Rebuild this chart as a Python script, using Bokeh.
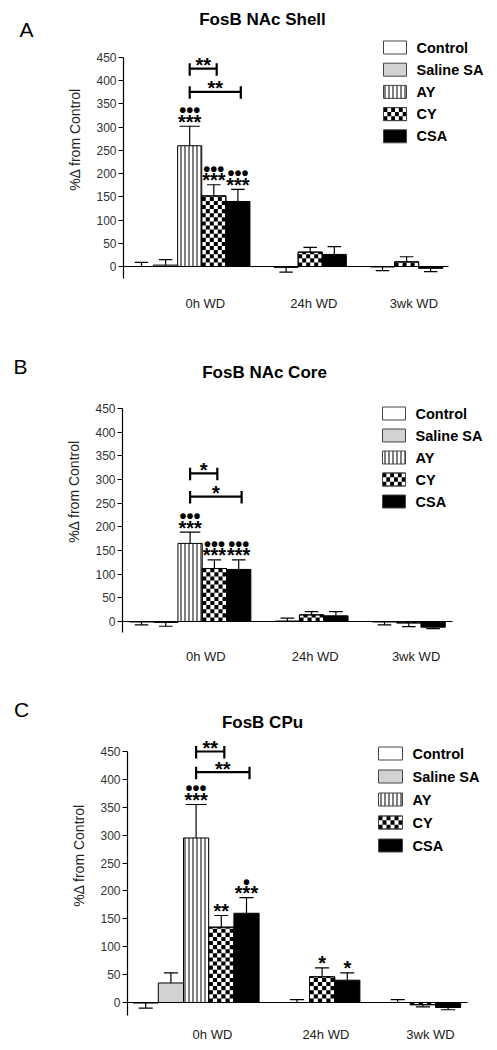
import math
from bokeh.plotting import figure
from bokeh.layouts import column, row
from bokeh.models import Range1d, FixedTicker
from bokeh.core.properties import value
from bokeh.embed import file_html
from bokeh.resources import INLINE

FONT = "Liberation Sans"
PAGE_W = 496
LETTER_W = 50

# ---------------- data ----------------
groups = ["0h WD", "24h WD", "3wk WD"]
series_0h = ["Control", "Saline SA", "AY", "CY", "CSA"]
series_24h = ["Control", "CY", "CSA"]
series_3wk = ["Control", "CY", "CSA"]
legend_names = ["Control", "Saline SA", "AY", "CY", "CSA"]
y_ticks = [0, 50, 100, 150, 200, 250, 300, 350, 400, 450]

# A: FosB NAc Shell (% change from control: mean, SEM)
shell_0h = [0, 3, 260, 152, 140]
shell_0h_sem = [9, 12, 42, 24, 26]
shell_24h = [-2, 31, 26]
shell_24h_sem = [10, 10, 17]
shell_3wk = [-1, 10, -4]
shell_3wk_sem = [8, 11, 7]
shell_0h_stars = ["", "", "***", "***", "***"]
shell_0h_dots = ["", "", "•••", "•••", "•••"]
shell_24h_stars = ["", "", ""]
shell_bracket_to = ["CY", "CSA"]
shell_bracket_y = [426, 376]
shell_bracket_txt = ["**", "**"]

# B: FosB NAc Core
core_0h = [-1, -2, 165, 112, 110]
core_0h_sem = [6, 8, 24, 18, 20]
core_24h = [1, 14, 12]
core_24h_sem = [6, 7, 9]
core_3wk = [-1, -3, -12]
core_3wk_sem = [6, 8, 3]
core_0h_stars = ["", "", "***", "***", "***"]
core_0h_dots = ["", "", "•••", "•••", "•••"]
core_24h_stars = ["", "", ""]
core_bracket_to = ["CY", "CSA"]
core_bracket_y = [313, 264]
core_bracket_txt = ["*", "*"]

# C: FosB CPu
cpu_0h = [-1, 35, 295, 135, 160]
cpu_0h_sem = [9, 18, 60, 21, 28]
cpu_24h = [0, 46, 40]
cpu_24h_sem = [5, 16, 13]
cpu_3wk = [0, -4, -9]
cpu_3wk_sem = [5, 4, 4]
cpu_0h_stars = ["", "", "***", "**", "***"]
cpu_0h_dots = ["", "", "•••", "", "•"]
cpu_24h_stars = ["", "*", "*"]
cpu_bracket_to = ["CY", "CSA"]
cpu_bracket_y = [450, 413]
cpu_bracket_txt = ["**", "**"]

# ---------------- layout (pixel geometry of each panel, page coords) ----------------
LAYOUT = {
    "A": dict(fig_top=0, fig_h=350, frame_left=123, frame_bottom=278,
              zero_y=266, y450=57, slot0=141.0, slot_px=24.1, line_end=448, cat_standoff=17,
              box_l=383, box_r=406, text_l=416, leg_y0=47, leg_dy=22.2,
              title_x=262, title_y=19, letter_x=26, letter_y=36),
    "B": dict(fig_top=350, fig_h=345, frame_left=122, frame_bottom=632,
              zero_y=621, y450=408, slot0=141.0, slot_px=24.3, line_end=452, cat_standoff=16,
              box_l=382, box_r=405, text_l=415, leg_y0=413, leg_dy=22.0,
              title_x=264, title_y=372, letter_x=20, letter_y=369),
    "C": dict(fig_top=695, fig_h=353, frame_left=127, frame_bottom=1015,
              zero_y=1002, y450=751, slot0=145.2, slot_px=25.2, line_end=467, cat_standoff=11,
              box_l=378, box_r=402, text_l=412, leg_y0=753, leg_dy=23.0,
              title_x=262, title_y=722, letter_x=21, letter_y=710),
}
label_shift = [0.65, 0.15, 0.3]

STYLE = {
    "Control": dict(fill_color="white"),
    "Saline SA": dict(fill_color="#d2d2d2"),
    "AY": dict(fill_color="white", hatch_pattern="vertical_line", hatch_scale=4,
               hatch_weight=1, hatch_color="black"),
    "CY": dict(fill_color="white"),
    "CSA": dict(fill_color="black"),
}
CAP = {"Control": 0.28, "Saline SA": 0.28, "AY": 0.42, "CY": 0.28, "CSA": 0.28}


def checker(p, l, r, y_from, y_to, ncols, cell_h):
    span = abs(y_to - y_from)
    if span <= 0:
        return
    sgn = 1 if y_to > y_from else -1
    nrows = int(math.ceil(span / cell_h - 1e-9))
    w = (r - l) / ncols
    L_, R_, B_, T_ = [], [], [], []
    for j in range(nrows):
        ya = y_from + sgn * j * cell_h
        yb = y_from + sgn * min((j + 1) * cell_h, span)
        for i in range(ncols):
            if (i + j) % 2 == 0:
                L_.append(l + i * w)
                R_.append(l + (i + 1) * w)
                B_.append(min(ya, yb))
                T_.append(max(ya, yb))
    p.quad(left=L_, right=R_, bottom=B_, top=T_, fill_color="black", line_color=None)


def letter_fig(L, letter):
    q = figure(width=LETTER_W, height=L["fig_h"], x_range=Range1d(0, LETTER_W),
               y_range=Range1d(L["fig_top"] + L["fig_h"], L["fig_top"]),
               output_backend="svg", toolbar_location=None,
               x_axis_type=None, y_axis_type=None,
               min_border_left=0, min_border_right=0, min_border_top=0, min_border_bottom=0)
    q.outline_line_color = None
    q.xgrid.visible = False
    q.ygrid.visible = False
    q.text(x=[L["letter_x"]], y=[L["letter_y"]], text=[letter], text_font=value(FONT),
           text_font_size="21px", text_align="center", text_baseline="middle",
           text_color="black")
    return q


def make_panel(L, title, vals, sems, stars, dots, br_to, br_y, br_txt):
    ppu = (L["zero_y"] - L["y450"]) / 450.0
    sp = L["slot_px"]

    def xd(px):
        return (px - L["slot0"]) / sp

    def yd(py):
        return (L["zero_y"] - py) / ppu

    x_start, x_end = xd(L["frame_left"]), xd(PAGE_W)
    y_start, y_end = yd(L["frame_bottom"]), yd(L["fig_top"])
    p = figure(width=PAGE_W - LETTER_W, height=L["fig_h"],
               x_range=Range1d(x_start, x_end), y_range=Range1d(y_start, y_end),
               output_backend="svg", toolbar_location=None,
               min_border_left=L["frame_left"] - LETTER_W, min_border_right=0,
               min_border_top=0,
               min_border_bottom=L["fig_top"] + L["fig_h"] - L["frame_bottom"])
    p.outline_line_color = None
    p.xgrid.visible = False
    p.ygrid.visible = False
    p.background_fill_color = "white"
    p.border_fill_color = "white"

    series_lists = [series_0h, series_24h, series_3wk]
    recs = {n: dict(x=[], v=[], e=[], tip=[], star=[], dot=[]) for n in legend_names}
    slot_of_0h = {}
    centers = []
    start = 0
    for g, names in enumerate(series_lists):
        for i, n in enumerate(names):
            x = start + i
            v = vals[g][i]
            e = sems[g][i]
            r = recs[n]
            r["x"].append(x)
            r["v"].append(v)
            r["e"].append(e)
            r["tip"].append(v + e if v >= 0 else v - e)
            r["star"].append(stars[g][i] if g < len(stars) else "")
            r["dot"].append(dots[g][i] if g < len(dots) else "")
            if g == 0:
                slot_of_0h[n] = x
        centers.append(start + (len(names) - 1) / 2.0)
        start += len(names) + 1

    # bars
    for n in legend_names:
        r = recs[n]
        if not r["x"]:
            continue
        lefts = [x - 0.5 for x in r["x"]]
        rights = [x + 0.5 for x in r["x"]]
        p.quad(left=lefts, right=rights, bottom=[0] * len(lefts), top=r["v"],
               line_color="black", line_width=1, **STYLE[n])
        if n == "CY":
            for lx, rx, v in zip(lefts, rights, r["v"]):
                checker(p, lx, rx, 0, v, 6, 4.1 / ppu)
            p.quad(left=lefts, right=rights, bottom=[0] * len(lefts), top=r["v"],
                   fill_color=None, line_color="black", line_width=1)

    # error bars
    for n in legend_names:
        r = recs[n]
        if not r["x"]:
            continue
        c = CAP[n]
        p.segment(x0=r["x"], y0=r["v"], x1=r["x"], y1=r["tip"], line_color="black", line_width=1.2)
        p.segment(x0=[x - c for x in r["x"]], y0=r["tip"], x1=[x + c for x in r["x"]], y1=r["tip"],
                  line_color="black", line_width=1.2)

    # baseline
    p.segment(x0=[x_start], y0=[0], x1=[xd(L["line_end"])], y1=[0], line_color="black", line_width=1.2)

    # significance marks
    sx, sy, st, dx, dy, dt = [], [], [], [], [], []
    for n in legend_names:
        r = recs[n]
        for x, tip, s, d in zip(r["x"], r["tip"], r["star"], r["dot"]):
            if s:
                sx.append(x); sy.append(tip); st.append(s)
            if d:
                dx.append(x); dy.append(tip); dt.append(d)
    p.text(x=sx, y=sy, text=st, text_font=value(FONT), text_font_style="bold",
           text_font_size="20px", text_align="center", text_baseline="alphabetic",
           y_offset=-4.5, text_color="black")
    p.text(x=dx, y=dy, text=dt, text_font=value(FONT), text_font_style="bold",
           text_font_size="20px", text_align="center", text_baseline="alphabetic",
           y_offset=-16.0, text_color="black")

    # brackets
    xa = slot_of_0h["AY"]
    for to, lev, txt in zip(br_to, br_y, br_txt):
        xb = slot_of_0h[to] + 0.12
        p.segment(x0=[xa], y0=[lev], x1=[xb], y1=[lev], line_color="black", line_width=2.2)
        p.segment(x0=[xa, xb], y0=[lev + 5.5 / ppu] * 2, x1=[xa, xb], y1=[lev - 7.0 / ppu] * 2,
                  line_color="black", line_width=2.2)
        p.text(x=[(xa + xb) / 2.0], y=[lev], text=[txt], text_font=value(FONT),
               text_font_style="bold", text_font_size="20px", text_align="center",
               text_baseline="alphabetic", y_offset=-3.5, text_color="black")

    # legend (drawn by hand so the checker swatch can be shown)
    for k, n in enumerate(legend_names):
        yc = L["leg_y0"] + k * L["leg_dy"]
        l, rr = xd(L["box_l"]), xd(L["box_r"])
        t, b = yd(yc - 6.5), yd(yc + 6.5)
        p.quad(left=[l], right=[rr], bottom=[b], top=[t], line_color="#444", line_width=1, **STYLE[n])
        if n == "CY":
            checker(p, l, rr, t, b, 6, (t - b) / 3.0)
            p.quad(left=[l], right=[rr], bottom=[b], top=[t], fill_color=None, line_color="#444", line_width=1)
        p.text(x=[xd(L["text_l"])], y=[yd(yc)], text=[n], text_font=value(FONT),
               text_font_style="bold", text_font_size="14.5px", text_align="left",
               text_baseline="middle", text_color="black")

    # title
    p.text(x=[xd(L["title_x"])], y=[yd(L["title_y"])], text=[title], text_font=value(FONT),
           text_font_style="bold", text_font_size="17px", text_align="center",
           text_baseline="middle", text_color="black")

    # y axis
    ya_ = p.yaxis[0]
    ya_.ticker = FixedTicker(ticks=y_ticks)
    ya_.bounds = (y_start, 450)
    ya_.axis_line_color = "black"
    ya_.axis_line_width = 1.2
    ya_.major_tick_out = 5
    ya_.major_tick_in = 0
    ya_.major_tick_line_color = "black"
    ya_.minor_tick_line_color = None
    ya_.major_label_standoff = 2
    ya_.major_label_text_font = FONT
    ya_.major_label_text_font_size = "12px"
    ya_.major_label_text_color = "#333333"
    ya_.axis_label = "%Δ from Control"
    ya_.axis_label_text_font = FONT
    ya_.axis_label_text_font_size = "14px"
    ya_.axis_label_text_font_style = "normal"
    ya_.axis_label_text_color = "#222222"
    ya_.axis_label_standoff = 10

    # x axis (group labels only)
    xa_ = p.xaxis[0]
    ticks = [c + s for c, s in zip(centers, label_shift)]
    xa_.ticker = FixedTicker(ticks=ticks)
    xa_.major_label_overrides = {t: g for t, g in zip(ticks, groups)}
    xa_.axis_line_color = None
    xa_.major_tick_line_color = None
    xa_.minor_tick_line_color = None
    xa_.major_tick_out = 0
    xa_.major_tick_in = 0
    xa_.major_label_standoff = L["cat_standoff"]
    xa_.major_label_text_font = FONT
    xa_.major_label_text_font_size = "13px"
    xa_.major_label_text_color = "#222222"
    return p


rows = []
for key, title, letter, vals, sems, stars, dots, bt, by, btx in [
    ("A", "FosB NAc Shell", "A", [shell_0h, shell_24h, shell_3wk],
     [shell_0h_sem, shell_24h_sem, shell_3wk_sem], [shell_0h_stars, shell_24h_stars],
     [shell_0h_dots], shell_bracket_to, shell_bracket_y, shell_bracket_txt),
    ("B", "FosB NAc Core", "B", [core_0h, core_24h, core_3wk],
     [core_0h_sem, core_24h_sem, core_3wk_sem], [core_0h_stars, core_24h_stars],
     [core_0h_dots], core_bracket_to, core_bracket_y, core_bracket_txt),
    ("C", "FosB CPu", "C", [cpu_0h, cpu_24h, cpu_3wk],
     [cpu_0h_sem, cpu_24h_sem, cpu_3wk_sem], [cpu_0h_stars, cpu_24h_stars],
     [cpu_0h_dots], cpu_bracket_to, cpu_bracket_y, cpu_bracket_txt),
]:
    L = LAYOUT[key]
    rows.append(row(letter_fig(L, letter),
                    make_panel(L, title, vals, sems, stars, dots, bt, by, btx), spacing=0))

layout = column(*rows, spacing=0)
open("out.html", "w").write(file_html(layout, INLINE))
